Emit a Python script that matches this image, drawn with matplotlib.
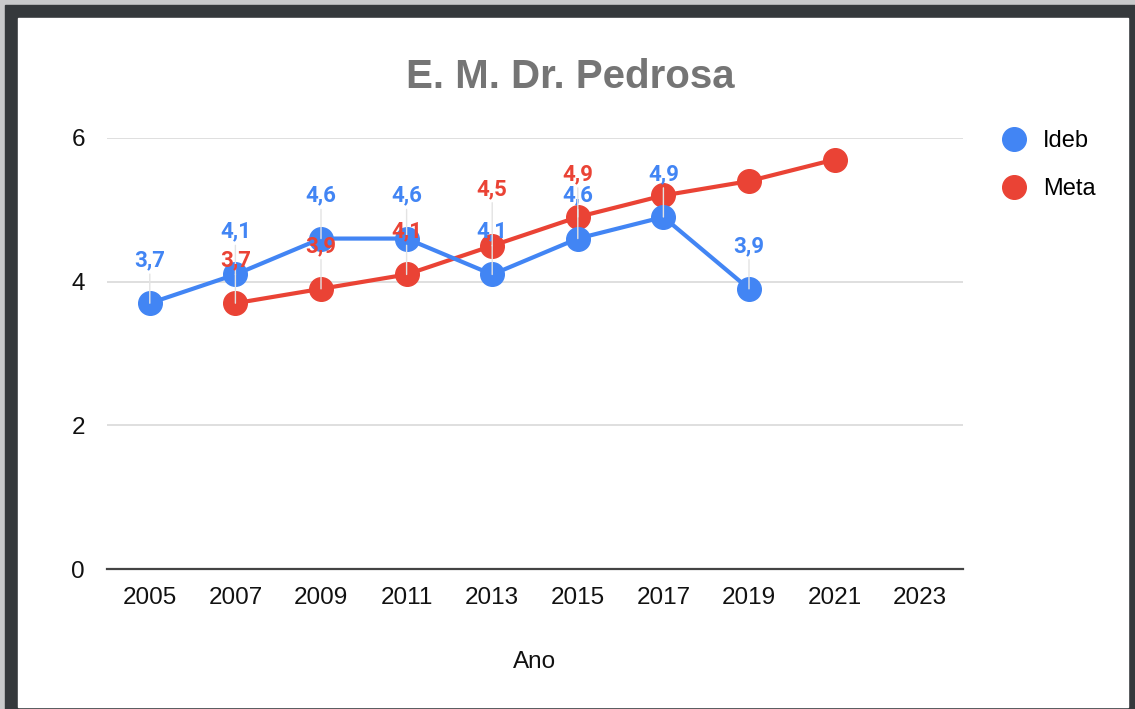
import numpy as np
import matplotlib
matplotlib.use("Agg")
import matplotlib.pyplot as plt
from matplotlib.patches import Rectangle
from matplotlib.lines import Line2D

plt.rcParams['font.family'] = ['Liberation Sans', 'DejaVu Sans']

anos = ['2005', '2007', '2009', '2011', '2013', '2015', '2017', '2019', '2021', '2023']
ideb = [3.7, 4.1, 4.6, 4.6, 4.1, 4.6, 4.9, 3.9, None, None]
meta = [None, 3.7, 3.9, 4.1, 4.5, 4.9, 5.2, 5.4, 5.7, None]
# which Meta values get a label (the chart hides the colliding ones)
meta_rotulo = [False, True, True, True, True, True, False, False, False, False]

azul = '#4285F4'
vermelho = '#EA4335'

fig = plt.figure(figsize=(11.35, 7.09), dpi=100)
W, H = 1135, 709

# dark frame around the screenshot
fig.patches.append(Rectangle((0, 0), 1, 1, transform=fig.transFigure, color='#c9cacb', zorder=-3))
fig.patches.append(Rectangle((5 / W, 0), 1 - 5 / W, 1 - 5 / H, transform=fig.transFigure, color='#35393c', zorder=-2))
fig.patches.append(Rectangle((18 / W, 2 / H), (1128 - 18) / W, (H - 18 - 2) / H, transform=fig.transFigure,
                             color='white', zorder=-1))

ax = fig.add_axes([107 / W, (H - 569) / H, (963 - 107) / W, (569 - 138) / H])
ax.set_facecolor('none')

x = np.arange(len(anos))
yi = np.array([np.nan if v is None else v for v in ideb])
ym = np.array([np.nan if v is None else v for v in meta])

ax.plot(x, yi, color=azul, lw=3, marker='o', ms=17, zorder=4, label='Ideb')
ax.plot(x, ym, color=vermelho, lw=3, marker='o', ms=17, zorder=3, label='Meta')

ax.set_xlim(-0.5, len(anos) - 0.5)
ax.set_ylim(0, 6)
ax.set_yticks([0, 2, 4, 6])
ax.set_xticks(x)
ax.set_xticklabels(anos)
ax.tick_params(length=0, labelsize=17.5, pad=13, colors='#111111')
ax.tick_params(axis='y', pad=16)
ax.grid(axis='y', color='#d9d9d9', lw=1.2, zorder=0)
ax.set_axisbelow(True)
for s in ['left', 'right', 'top']:
    ax.spines[s].set_visible(False)
ax.spines['bottom'].set_color('#444444')
ax.spines['bottom'].set_linewidth(1.6)
ax.set_xlabel('Ano', fontsize=17.5, labelpad=30, color='#111111')


def rotulo(xv, yv, cor, dy):
    ax.annotate(f'{yv:.1f}'.replace('.', ','), xy=(xv, yv), xytext=(0, dy), textcoords='offset points',
                ha='center', va='bottom', fontsize=16, fontweight='bold', color=cor, zorder=6,
                family=['Roboto', 'DejaVu Sans'],
                arrowprops=dict(arrowstyle='-', color='#e3e3e3', lw=1, shrinkA=0, shrinkB=0))


for i, v in enumerate(ideb):
    if v is not None:
        rotulo(x[i], v, azul, 23)
for i, v in enumerate(meta):
    if v is not None and meta_rotulo[i]:
        dy = 33 if anos[i] == '2013' else 23
        rotulo(x[i], v, vermelho, dy)

fig.text(570 / W, 1 - 77 / H, 'E. M. Dr. Pedrosa', ha='center', va='center', fontsize=29,
         fontweight='bold', color='#757575')

handles = [Line2D([], [], ls='none', marker='o', ms=17, color=azul),
           Line2D([], [], ls='none', marker='o', ms=17, color=vermelho)]
fig.legend(handles, ['Ideb', 'Meta'], loc='upper left', bbox_to_anchor=(990 / W, 1 - 121 / H),
           frameon=False, fontsize=17, handletextpad=0.65, labelspacing=1.1, handlelength=1.2,
           borderaxespad=0)

fig.savefig('out.png', dpi=100)
